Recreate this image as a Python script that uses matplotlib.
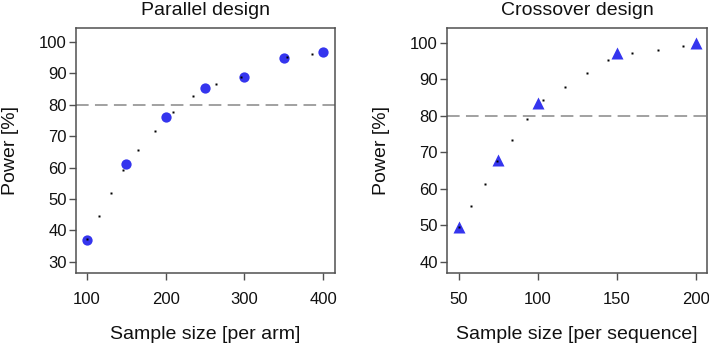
import matplotlib
matplotlib.use("Agg")
import matplotlib.pyplot as plt

plt.rcParams['font.family'] = ['Liberation Sans', 'DejaVu Sans']

# Parallel design
par_n = [100, 150, 200, 250, 300, 350, 400]
par_power = [37, 61, 76, 85.5, 89, 95, 96.7]
par_curve_n = [100, 115, 131, 146, 165, 186, 209, 235, 264, 296, 354, 386]
par_curve_p = [37.2, 44.6, 51.9, 59.1, 65.6, 71.8, 77.7, 82.8, 86.5, 88.8, 95.1, 96.2]
par_xticks = [100, 200, 300, 400]
par_yticks = [30, 40, 50, 60, 70, 80, 90, 100]

# Crossover design
cro_n = [50, 75, 100, 150, 200]
cro_power = [49.6, 67.9, 83.6, 97.1, 99.8]
cro_curve_n = [50, 57.8, 66.3, 74.3, 83.7, 93.0, 103.5, 117.1, 131.1, 144.6, 159.8, 175.9, 192.0]
cro_curve_p = [49.5, 55.45, 61.4, 67.6, 73.3, 79.0, 84.3, 87.9, 91.6, 95.2, 97.3, 98.1, 99.0]
cro_xticks = [50, 100, 150, 200]
cro_yticks = [40, 50, 60, 70, 80, 90, 100]

target = 80
blue = '#3535ee'
frame = '#505050'

W, H = 709, 345
fig = plt.figure(figsize=(W / 100, H / 100), dpi=100)

def px_axes(x0, x1, y0, y1):
    return fig.add_axes([x0 / W, 1 - y1 / H, (x1 - x0) / W, (y1 - y0) / H])

def style(ax, title, xlabel, xticks, yticks):
    for s in ax.spines.values():
        s.set_color(frame)
        s.set_linewidth(1.1)
    ax.set_xticks(xticks)
    ax.set_yticks(yticks)
    ax.tick_params(axis='both', direction='out', length=5, width=1.0,
                   color=frame, labelsize=12, labelcolor='#111111')
    ax.tick_params(axis='x', pad=9)
    ax.tick_params(axis='y', pad=1.5)
    ax.set_title(title, fontsize=14, pad=9.5, color='#111111')
    ax.set_xlabel(xlabel, fontsize=14, color='#111111')
    ax.set_ylabel('Power [%]', fontsize=14, color='#111111')
    ax.xaxis.set_label_coords(0.5, -53 / 245)
    ax.yaxis.set_label_coords(-57 / 259.5, 0.5)
    ax.axhline(target, color='#9a9a9a', lw=1.3, ls=(0, (7, 3.5)), zorder=1)

ax1 = px_axes(76, 335, 28, 273)
style(ax1, 'Parallel design', 'Sample size [per arm]', par_xticks, par_yticks)
ax1.plot(par_n, par_power, 'o', color=blue, ms=7.4, mec='none', zorder=2)
ax1.plot(par_curve_n, par_curve_p, 's', color='black', ms=1.6, mec='none', zorder=3)
ax1.set_xlim(86, 415)
ax1.set_ylim(26.4, 104.5)

ax2 = px_axes(447, 707, 28, 273)
style(ax2, 'Crossover design', 'Sample size [per sequence]', cro_xticks, cro_yticks)
ax2.plot(cro_n, cro_power, '^', color=blue, ms=9, mec='none', zorder=2)
ax2.plot(cro_curve_n, cro_curve_p, 's', color='black', ms=1.6, mec='none', zorder=3)
ax2.set_xlim(42.4, 207.2)
ax2.set_ylim(37.0, 104.0)

fig.savefig('out.png', dpi=100)
